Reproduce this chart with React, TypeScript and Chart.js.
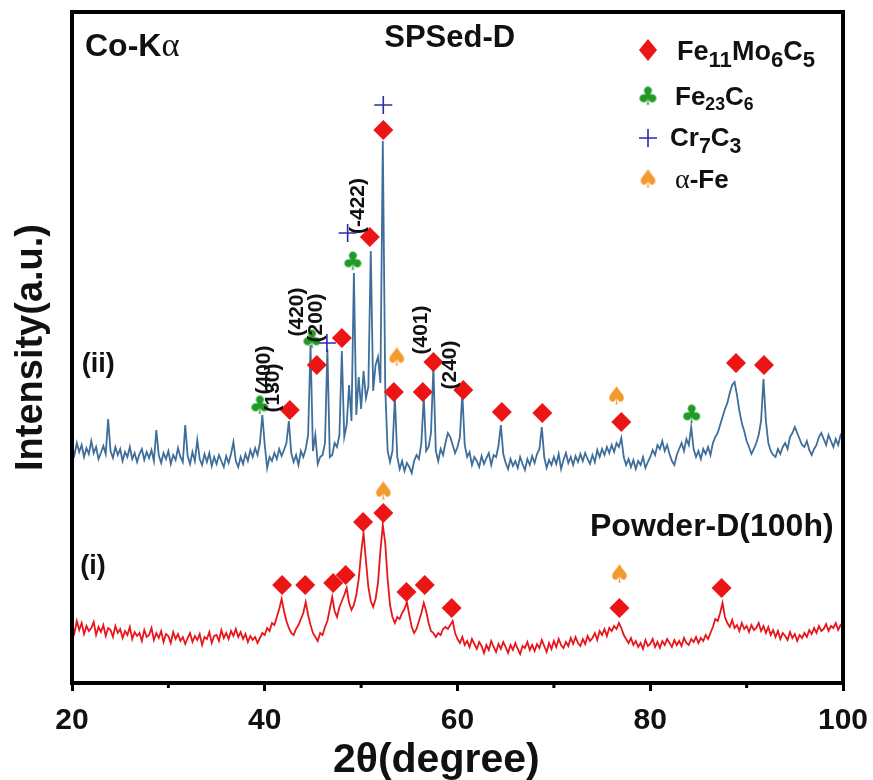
import React, { useEffect, useRef } from 'react';
import { Chart, registerables } from 'chart.js';

Chart.register(...registerables);

// 2θ grid of the digitised patterns (degrees)
const twoThetaStart = 20;
const twoThetaStep = 0.25;

// (ii) SPSed-D pattern, arbitrary units, one row per degree (x.00, x.25, x.50, x.75)
const spsedD = [
  236, 228, 240, 231, // 20
  238, 226, 235, 229, // 21
  242, 230, 236, 224, // 22
  230, 237, 229, 264, // 23
  232, 225, 236, 228, // 24
  234, 222, 231, 226, // 25
  236, 224, 230, 221, // 26
  229, 234, 223, 231, // 27
  225, 233, 222, 253, // 28
  228, 220, 230, 224, // 29
  232, 219, 228, 223, // 30
  235, 226, 221, 258, // 31
  227, 219, 231, 222, // 32
  243, 224, 218, 229, // 33
  221, 230, 217, 226, // 34
  219, 228, 222, 216, // 35
  227, 220, 229, 241, // 36
  222, 216, 226, 219, // 37
  229, 222, 233, 226, // 38
  235, 228, 240, 268, // 39
  238, 215, 226, 222, // 40
  230, 224, 234, 227, // 41
  233, 240, 262, 230, // 42
  221, 228, 218, 232, // 43
  226, 234, 248, 338, // 44
  232, 248, 219, 226, // 45
  228, 240, 334, 226, // 46
  228, 240, 236, 248, // 47
  332, 246, 258, 298, // 48
  262, 410, 268, 306, // 49
  274, 312, 285, 296, // 50
  432, 292, 318, 326, // 51
  300, 542, 296, 232, // 52
  221, 232, 286, 226, // 53
  214, 222, 212, 220, // 54
  216, 210, 222, 228, // 55
  224, 240, 286, 232, // 56
  236, 250, 316, 232, // 57
  222, 234, 228, 240, // 58
  250, 246, 238, 230, // 59
  236, 246, 290, 238, // 60
  226, 231, 218, 226, // 61
  222, 216, 227, 219, // 62
  225, 230, 218, 228, // 63
  226, 237, 258, 229, // 64
  220, 214, 224, 217, // 65
  222, 215, 226, 219, // 66
  213, 224, 218, 227, // 67
  220, 229, 234, 256, // 68
  226, 215, 223, 218, // 69
  226, 219, 229, 214, // 70
  223, 230, 220, 226, // 71
  218, 227, 221, 229, // 72
  222, 230, 224, 219, // 73
  228, 221, 233, 226, // 74
  234, 228, 236, 230, // 75
  238, 231, 240, 236, // 76
  245, 226, 218, 224, // 77
  216, 223, 214, 222, // 78
  218, 226, 215, 221, // 79
  226, 233, 228, 238, // 80
  234, 242, 232, 238, // 81
  229, 222, 218, 228, // 82
  234, 240, 232, 244, // 83
  238, 256, 234, 226, // 84
  232, 224, 234, 229, // 85
  236, 228, 240, 246, // 86
  250, 258, 266, 274, // 87
  280, 290, 298, 301, // 88
  288, 272, 260, 252, // 89
  242, 236, 229, 234, // 90
  240, 248, 262, 304, // 91
  262, 240, 232, 228, // 92
  226, 234, 229, 236, // 93
  240, 234, 246, 250, // 94
  256, 250, 244, 238, // 95
  236, 242, 233, 228, // 96
  234, 238, 246, 250, // 97
  244, 238, 248, 242, // 98
  236, 244, 238, 248, // 99
  252,                // 100
];

// (i) Powder-D (100h) pattern, arbitrary units
const powderD = [
  58, 50, 62, 53, // 20
  60, 49, 57, 52, // 21
  55, 61, 48, 56, // 22
  51, 58, 47, 55, // 23
  53, 46, 57, 50, // 24
  54, 45, 52, 48, // 25
  56, 44, 51, 47, // 26
  50, 42, 53, 46, // 27
  48, 55, 43, 50, // 28
  45, 52, 41, 49, // 29
  47, 40, 51, 44, // 30
  49, 42, 46, 39, // 31
  45, 50, 41, 47, // 32
  43, 49, 38, 46, // 33
  44, 51, 40, 47, // 34
  48, 42, 53, 45, // 35
  50, 44, 52, 47, // 36
  54, 46, 51, 44, // 37
  49, 41, 47, 43, // 38
  46, 40, 45, 50, // 39
  48, 55, 52, 60, // 40
  58, 66, 74, 84, // 41
  72, 62, 55, 50, // 42
  48, 54, 58, 64, // 43
  70, 81, 68, 58, // 44
  50, 46, 42, 50, // 45
  48, 56, 62, 74, // 46
  86, 72, 66, 76, // 47
  82, 88, 95, 80, // 48
  73, 78, 88, 104, // 49
  130, 150, 122, 96, // 50
  82, 76, 84, 100, // 51
  132, 158, 140, 104, // 52
  78, 66, 60, 66, // 53
  64, 70, 74, 81, // 54
  68, 56, 50, 54, // 55
  62, 70, 80, 72, // 56
  60, 52, 50, 46, // 57
  50, 48, 54, 56, // 58
  54, 58, 62, 50, // 59
  44, 40, 46, 38, // 60
  42, 36, 44, 39, // 61
  34, 41, 37, 30, // 62
  38, 33, 42, 36, // 63
  31, 39, 34, 41, // 64
  36, 30, 38, 33, // 65
  40, 34, 29, 37, // 66
  35, 41, 33, 38, // 67
  32, 39, 35, 43, // 68
  37, 31, 40, 34, // 69
  42, 36, 44, 38, // 70
  35, 41, 37, 45, // 71
  39, 46, 40, 37, // 72
  44, 39, 47, 42, // 73
  45, 50, 43, 52, // 74
  48, 54, 47, 55, // 75
  52, 57, 54, 60, // 76
  55, 48, 44, 40, // 77
  45, 38, 42, 36, // 78
  40, 34, 43, 37, // 79
  39, 44, 36, 41, // 80
  35, 42, 38, 44, // 81
  40, 36, 43, 38, // 82
  42, 37, 45, 40, // 83
  38, 44, 41, 46, // 84
  40, 45, 42, 48, // 85
  44, 50, 56, 64, // 86
  62, 70, 80, 66, // 87
  60, 56, 63, 55, // 88
  58, 52, 60, 54, // 89
  57, 51, 58, 53, // 90
  55, 60, 52, 57, // 91
  50, 56, 48, 53, // 92
  46, 52, 44, 50, // 93
  47, 43, 51, 45, // 94
  49, 42, 48, 45, // 95
  50, 46, 53, 49, // 96
  55, 50, 57, 52, // 97
  54, 59, 52, 57, // 98
  55, 60, 53, 58, // 99
  56,             // 100
];

// Phase markers: [2θ, intensity]
const fe11Mo6C5Marks = [
  [42.6, 273], [45.4, 318], [48.0, 345], [50.9, 446], [52.3, 553],
  [53.4, 291], [56.4, 291], [57.5, 321], [60.6, 293], [64.6, 271],
  [68.8, 270], [77.0, 261], [88.9, 320], [91.8, 318],
  [41.8, 98], [44.2, 98], [47.1, 100], [48.4, 108], [50.2, 161],
  [52.3, 170], [54.7, 91], [56.6, 98], [59.4, 75], [76.8, 75], [87.4, 95],
];
const fe23C6Marks = [[39.5, 277], [44.9, 343], [49.15, 421], [84.3, 268]];
const cr7C3Marks = [[46.45, 340], [48.6, 450], [52.3, 578]];
const alphaFeMarks = [[53.7, 325], [76.5, 286], [52.3, 191], [76.8, 108]];

// Axis ticks
const majorTicks = [20, 40, 60, 80, 100];
const minorTicks = [30, 50, 70, 90];

// Miller-index labels: [text, 2θ, intensity]
const hklLabels = [
  ['(400)', 39.92, 313], ['(130)', 40.86, 295], ['(420)', 43.35, 371],
  ['(200)', 45.32, 365], ['(-422)', 49.68, 477], ['(401)', 56.21, 353],
  ['(240)', 59.22, 318],
];

const SANS = "'Liberation Sans', Arial, Helvetica, sans-serif";
const SERIF = "'Liberation Serif', 'Times New Roman', serif";
const RED = '#ec1515';
const BLUE_LINE = '#3f6e9b';
const RED_LINE = '#e8161b';
const GREEN = '#1f9a24';
const ORANGE = '#f39a2c';
const CROSS = '#2b2ba8';

function glyphCanvas(ch: string, color: string, size: number) {
  const c = document.createElement('canvas');
  c.width = size + 4;
  c.height = size + 4;
  const g = c.getContext('2d') as CanvasRenderingContext2D;
  g.fillStyle = color;
  g.font = `${size}px 'DejaVu Sans', sans-serif`;
  g.textAlign = 'center';
  g.textBaseline = 'middle';
  g.fillText(ch, c.width / 2, c.height / 2 + size * 0.04);
  return c;
}

function toPoints(values: number[]) {
  return values.map((y, i) => ({ x: twoThetaStart + i * twoThetaStep, y }));
}
function toMarks(pairs: number[][]) {
  return pairs.map(([x, y]) => ({ x, y }));
}

function richText(ctx: CanvasRenderingContext2D, parts: [string, string][], x: number, y: number, size: number) {
  let cx = x;
  for (const [t, kind] of parts) {
    let s = size;
    let dy = 0;
    let fam = SANS;
    if (kind === 'sub') { s = size * 0.82; dy = size * 0.26; }
    if (kind === 'small') { s = size * 0.68; dy = size * 0.2; }
    if (kind === 'greek') { fam = SERIF; s = size * 1.08; }
    ctx.font = `${kind === 'greek' ? 'normal' : 'bold'} ${s}px ${fam}`;
    ctx.fillText(t, cx, y + dy);
    cx += ctx.measureText(t).width;
  }
}

export default function App() {
  const ref = useRef<HTMLCanvasElement | null>(null);

  useEffect(() => {
    if (!ref.current) return;
    const club = glyphCanvas('\u2663', GREEN, 25);
    const spade = glyphCanvas('\u2660', ORANGE, 25);

    const decor = {
      id: 'xrdDecor',
      afterDraw(chart: any) {
        const { ctx, chartArea: a, scales } = chart;
        const xs = scales.x;
        const ys = scales.y;
        ctx.save();
        // frame
        ctx.strokeStyle = '#000';
        ctx.lineWidth = 4;
        ctx.strokeRect(a.left, a.top, a.right - a.left, a.bottom - a.top);
        // minor ticks
        ctx.lineWidth = 3;
        for (const v of minorTicks) {
          const px = xs.getPixelForValue(v);
          ctx.beginPath();
          ctx.moveTo(px, a.bottom);
          ctx.lineTo(px, a.bottom + 5);
          ctx.stroke();
        }
        ctx.fillStyle = '#111';
        ctx.textBaseline = 'alphabetic';
        ctx.textAlign = 'left';
        // headers
        richText(ctx, [['Co-K', 'n'], ['\u03b1', 'greek']], a.left + 13, a.top + 44, 32);
        ctx.font = `bold 31px ${SANS}`;
        ctx.fillText('SPSed-D', xs.getPixelForValue(52.4), a.top + 35);
        // pattern labels
        ctx.textBaseline = 'middle';
        ctx.font = `bold 27px ${SANS}`;
        ctx.fillText('(ii)', xs.getPixelForValue(21.0), ys.getPixelForValue(318));
        ctx.fillText('(i)', xs.getPixelForValue(20.85), ys.getPixelForValue(116));
        ctx.font = `bold 32px ${SANS}`;
        ctx.fillText('Powder-D(100h)', xs.getPixelForValue(73.75), ys.getPixelForValue(156));
        // hkl labels
        ctx.font = `bold 21px ${SANS}`;
        ctx.textAlign = 'center';
        for (const [t, x, y] of hklLabels as [string, number, number][]) {
          ctx.save();
          ctx.translate(xs.getPixelForValue(x), ys.getPixelForValue(y));
          ctx.rotate(-Math.PI / 2);
          ctx.fillText(t, 0, 0);
          ctx.restore();
        }
        // x title
        ctx.font = `bold 41px ${SANS}`;
        ctx.textAlign = 'center';
        ctx.fillText('2\u03b8(degree)', xs.getPixelForValue(57.8), a.bottom + 78);
        // legend
        const lx = 648;
        const rows = [a.top + 38, a.top + 85, a.top + 126, a.top + 168];
        ctx.fillStyle = RED;
        ctx.beginPath();
        ctx.moveTo(lx, rows[0] - 11);
        ctx.lineTo(lx + 9, rows[0]);
        ctx.lineTo(lx, rows[0] + 11);
        ctx.lineTo(lx - 9, rows[0]);
        ctx.closePath();
        ctx.fill();
        ctx.drawImage(club, lx - club.width / 2, rows[1] - club.height / 2);
        ctx.strokeStyle = CROSS;
        ctx.lineWidth = 1.6;
        ctx.beginPath();
        ctx.moveTo(lx - 9, rows[2]);
        ctx.lineTo(lx + 9, rows[2]);
        ctx.moveTo(lx, rows[2] - 9);
        ctx.lineTo(lx, rows[2] + 9);
        ctx.stroke();
        ctx.drawImage(spade, lx - spade.width / 2, rows[3] - spade.height / 2);
        ctx.fillStyle = '#111';
        ctx.textAlign = 'left';
        ctx.textBaseline = 'alphabetic';
        richText(ctx, [['Fe', 'n'], ['11', 'sub'], ['Mo', 'n'], ['6', 'sub'], ['C', 'n'], ['5', 'sub']], 677, rows[0] + 10, 27);
        richText(ctx, [['Fe', 'n'], ['23', 'small'], ['C', 'n'], ['6', 'small']], 675, rows[1] + 8, 26);
        richText(ctx, [['Cr', 'n'], ['7', 'sub'], ['C', 'n'], ['3', 'sub']], 670, rows[2] + 8, 26);
        richText(ctx, [['\u03b1', 'greek'], ['-Fe', 'n']], 675, rows[3] + 8, 26);
        ctx.restore();
      },
    };

    const chart = new Chart(ref.current, {
      type: 'scatter',
      data: {
        datasets: [
          {
            label: 'SPSed-D',
            data: toPoints(spsedD),
            showLine: true,
            borderColor: BLUE_LINE,
            borderWidth: 1.8,
            pointRadius: 0,
            tension: 0,
            order: 2,
          } as any,
          {
            label: 'Powder-D(100h)',
            data: toPoints(powderD),
            showLine: true,
            borderColor: RED_LINE,
            borderWidth: 1.8,
            pointRadius: 0,
            tension: 0,
            order: 2,
          },
          {
            label: 'Fe11Mo6C5',
            data: toMarks(fe11Mo6C5Marks),
            pointStyle: 'rectRot',
            pointRadius: 10,
            backgroundColor: RED,
            borderColor: RED,
            borderWidth: 0,
            order: 1,
          },
          {
            label: 'Fe23C6',
            data: toMarks(fe23C6Marks),
            pointStyle: club,
            pointRadius: 10,
            order: 1,
          },
          {
            label: 'Cr7C3',
            data: toMarks(cr7C3Marks),
            pointStyle: 'cross',
            pointRadius: 9,
            borderColor: CROSS,
            borderWidth: 1.6,
            order: 1,
          },
          {
            label: 'α-Fe',
            data: toMarks(alphaFeMarks),
            pointStyle: spade,
            pointRadius: 10,
            order: 1,
          },
        ],
      },
      options: {
        animation: false,
        responsive: false,
        maintainAspectRatio: false,
        events: [],
        layout: { padding: { top: 12, right: 30, left: 0, bottom: 0 } },
        plugins: { legend: { display: false }, tooltip: { enabled: false } },
        scales: {
          x: {
            type: 'linear',
            min: 20,
            max: 100,
            afterBuildTicks: (s: any) => { s.ticks = majorTicks.map((v) => ({ value: v })); },
            ticks: {
              color: '#111',
              font: { family: SANS, size: 30, weight: 'bold', lineHeight: 1 },
              padding: 15,
              maxRotation: 0,
            },
            grid: {
              drawOnChartArea: false,
              drawTicks: true,
              tickLength: 8,
              tickWidth: 3,
              tickColor: '#000',
            },
            border: { display: true, width: 4, color: '#000' },
            afterFit: (s: any) => { s.height = 97; s.paddingLeft = 0; s.paddingRight = 0; },
          },
          y: {
            min: 0,
            max: 671,
            ticks: { display: false },
            grid: { display: false },
            border: { display: true, width: 4, color: '#000' },
            title: {
              display: true,
              text: 'Intensity(a.u.)',
              color: '#111',
              font: { family: SANS, size: 38, weight: 'bold', lineHeight: 1 },
              padding: { top: 13, bottom: 0 },
            },
            afterFit: (s: any) => { s.width = 72; s.paddingTop = 0; s.paddingBottom = 0; },
          },
        },
      } as any,
      plugins: [decor],
    });
    return () => chart.destroy();
  }, []);

  return (
    <div style={{ position: 'fixed', left: 0, top: 0, width: 873, height: 780, background: '#fff' }}>
      <canvas ref={ref} width={873} height={780} style={{ width: 873, height: 780, display: 'block' }} />
    </div>
  );
}
